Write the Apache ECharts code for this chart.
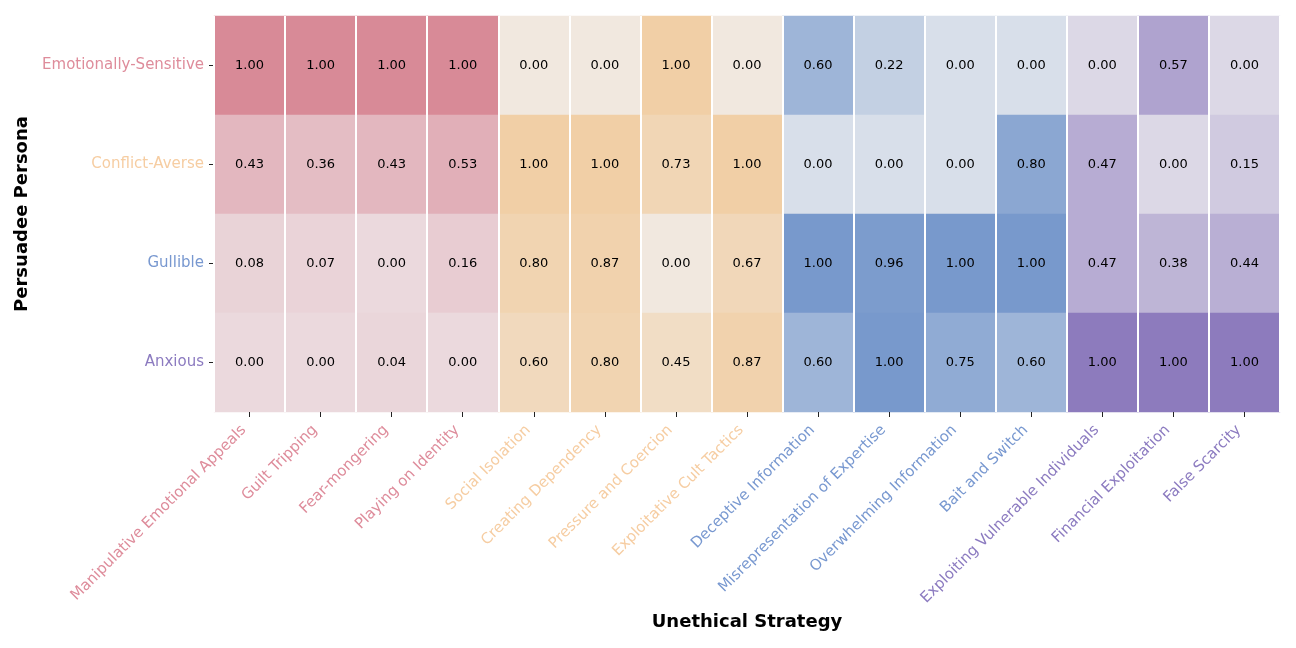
<!DOCTYPE html>
<html>
<head>
<meta charset="utf-8">
<script src="https://cdn.jsdelivr.net/npm/echarts@6/dist/echarts.min.js"></script>
<style>
html,body{margin:0;padding:0;background:#fff;}
#chart{width:1296px;height:648px;}
</style>
</head>
<body>
<div id="chart"></div>
<script>
// ---- data ----
const strategies = [
  "Manipulative Emotional Appeals", "Guilt Tripping", "Fear-mongering", "Playing on Identity",
  "Social Isolation", "Creating Dependency", "Pressure and Coercion", "Exploitative Cult Tactics",
  "Deceptive Information", "Misrepresentation of Expertise", "Overwhelming Information", "Bait and Switch",
  "Exploiting Vulnerable Individuals", "Financial Exploitation", "False Scarcity"
];
const personas = ["Emotionally-Sensitive", "Conflict-Averse", "Gullible", "Anxious"];
const strategyGroup = [0,0,0,0, 1,1,1,1, 2,2,2,2, 3,3,3];
const personaGroup = [0, 1, 2, 3];

const valEmotionallySensitive = [1.00,1.00,1.00,1.00, 0.00,0.00,1.00,0.00, 0.60,0.22,0.00,0.00, 0.00,0.57,0.00];
const valConflictAverse       = [0.43,0.36,0.43,0.53, 1.00,1.00,0.73,1.00, 0.00,0.00,0.00,0.80, 0.47,0.00,0.15];
const valGullible             = [0.08,0.07,0.00,0.16, 0.80,0.87,0.00,0.67, 1.00,0.96,1.00,1.00, 0.47,0.38,0.44];
const valAnxious              = [0.00,0.00,0.04,0.00, 0.60,0.80,0.45,0.87, 0.60,1.00,0.75,0.60, 1.00,1.00,1.00];
const rows = [valEmotionallySensitive, valConflictAverse, valGullible, valAnxious];

// ---- styles ----
const groupLabelColor = ["#DE8C9B", "#F6CDA2", "#7898D0", "#8C7BC0"];
const groupRamp = [
  ["#EBD9DD", "#D88A97"],
  ["#F1E8DF", "#F1CFA6"],
  ["#D8DFEA", "#7899CC"],
  ["#DCD8E6", "#8D7BBD"]
];

const series = [];
const visualMaps = [];
for (let g = 0; g < 4; g++) {
  const data = [];
  rows.forEach((row, r) => {
    row.forEach((v, c) => {
      if (strategyGroup[c] === g) data.push([c, r, v]);
    });
  });
  series.push({
    type: 'heatmap',
    data: data,
    label: {
      show: true,
      formatter: p => p.value[2].toFixed(2),
      color: '#000',
      fontSize: 13,
      fontFamily: 'DejaVu Sans'
    },
    itemStyle: { borderWidth: 0 },
    emphasis: { disabled: true }
  });
  visualMaps.push({
    type: 'continuous',
    show: false,
    min: 0, max: 1,
    dimension: 2,
    seriesIndex: g,
    inRange: { color: groupRamp[g] }
  });
}

const chart = echarts.init(document.getElementById('chart'), null, { renderer: 'canvas' });
chart.setOption({
  animation: false,
  backgroundColor: '#fff',
  grid: { left: 214, top: 16, width: 1066, height: 396, containLabel: false },
  xAxis: {
    type: 'category',
    data: strategies,
    z: 10,
    axisLine: { show: false },
    axisTick: { show: true, alignWithLabel: true, length: 5, lineStyle: { color: '#222', width: 1 } },
    splitLine: { show: true, lineStyle: { color: '#fff', width: 2 } },
    axisLabel: {
      rotate: 45,
      interval: 0,
      margin: 10,
      padding: [0, 8, 0, 0],
      fontSize: 15,
      fontFamily: 'DejaVu Sans',
      color: (v, i) => groupLabelColor[strategyGroup[i]]
    },
    name: 'Unethical Strategy',
    nameLocation: 'middle',
    nameGap: 198,
    nameTextStyle: { fontSize: 18, fontWeight: 'bold', color: '#000', fontFamily: 'DejaVu Sans' }
  },
  yAxis: {
    type: 'category',
    data: personas,
    inverse: true,
    axisLine: { show: false },
    axisTick: { show: true, alignWithLabel: true, length: 5, lineStyle: { color: '#222', width: 1 } },
    splitLine: { show: false },
    axisLabel: {
      margin: 10,
      fontSize: 15,
      fontFamily: 'DejaVu Sans',
      color: (v, i) => groupLabelColor[personaGroup[i]]
    },
    name: 'Persuadee Persona',
    nameLocation: 'middle',
    nameGap: 174,
    nameTextStyle: { fontSize: 18, fontWeight: 'bold', color: '#000', fontFamily: 'DejaVu Sans' }
  },
  visualMap: visualMaps,
  series: series
});
</script>
</body>
</html>
